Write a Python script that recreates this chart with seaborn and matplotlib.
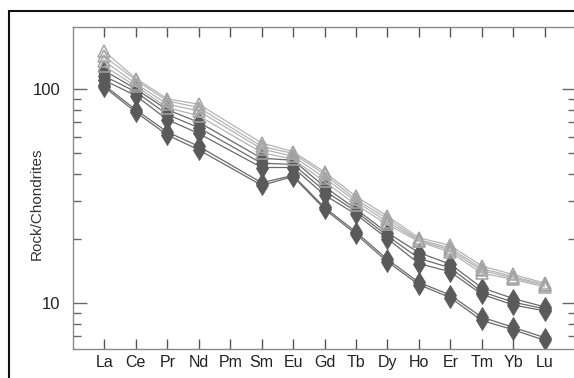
import numpy as np
import pandas as pd
import matplotlib
matplotlib.use("Agg")
import matplotlib.pyplot as plt
from matplotlib.ticker import LogLocator, FixedLocator, NullFormatter, FixedFormatter
from matplotlib.patches import Rectangle
import seaborn as sns

elements = ["La", "Ce", "Pr", "Nd", "Pm", "Sm", "Eu", "Gd", "Tb", "Dy", "Ho", "Er", "Tm", "Yb", "Lu"]
# Pm has no data (None)
T1 = [150, 112, 90, 85, None, 56, 51, 41, 31.5, 25.5, 20.2, 18.6, 14.9, 13.6, 12.4]
T2 = [142, 110, 88, 82, None, 54, 50, 40, 30.5, 24.8, 19.8, 18.1, 14.5, 13.3, 12.2]
T3 = [135, 106, 85, 79, None, 52.5, 48.5, 38.5, 29.8, 24.0, 19.6, 17.7, 14.2, 13.1, 12.1]
T4 = [128, 103, 82, 75, None, 50.5, 47, 37, 28.8, 23.3, 19.4, 17.3, 13.8, 12.9, 11.9]
D1 = [122, 100, 80, 70, None, 47.5, 46.5, 35, 27.5, 21.3, 17.2, 15.2, 11.8, 10.5, 9.6]
D2 = [115, 97, 76, 66, None, 45, 44.5, 33.5, 26.8, 20.6, 16.2, 14.6, 11.3, 10.1, 9.4]
D3 = [110, 93, 72, 62, None, 43, 43, 32, 26, 20.0, 15.3, 14.0, 11.0, 9.8, 9.2]
D4 = [104, 80, 63, 54, None, 36.5, 39.5, 28, 21.5, 16.0, 12.5, 10.9, 8.6, 7.7, 6.9]
D5 = [102, 78, 61, 52, None, 35.5, 39, 27.5, 21.0, 15.6, 12.2, 10.6, 8.3, 7.5, 6.7]

triangle_series = {"T1": T1, "T2": T2, "T3": T3, "T4": T4}
diamond_series = {"D1": D1, "D2": D2, "D3": D3, "D4": D4, "D5": D5}

y_major = [10, 100]
y_major_labels = ["10", "100"]

sns.set_style("white")
plt.rcParams["font.family"] = ["Liberation Sans", "DejaVu Sans"]

fig = plt.figure(figsize=(5.74, 3.78), dpi=100)
ax = fig.add_axes([73 / 574, 29 / 378, 503 / 574, 322 / 378])

pos = np.arange(len(elements))

def long_df(series):
    rows = []
    for name, vals in series.items():
        for p, v in zip(pos, vals):
            if v is not None:
                rows.append({"series": name, "pos": p, "val": v})
    return pd.DataFrame(rows)

dft = long_df(triangle_series)
dfd = long_df(diamond_series)

for name in diamond_series:
    sub = dfd[dfd["series"] == name]
    sns.lineplot(data=sub, x="pos", y="val", ax=ax, color="#6a6a6a", lw=0.9,
                 marker="d", markersize=10, markerfacecolor="#5a5a5a",
                 markeredgecolor="#5a5a5a", markeredgewidth=0.6, legend=False,
                 estimator=None, sort=False)
for name in triangle_series:
    sub = dft[dft["series"] == name]
    sns.lineplot(data=sub, x="pos", y="val", ax=ax, color="#b4b4b4", lw=0.9,
                 marker="^", markersize=8.5, markerfacecolor="none",
                 markeredgecolor="#a4a4a4", markeredgewidth=1.1, legend=False,
                 estimator=None, sort=False)

ax.set_yscale("log")
ax.set_ylim(6.1, 195)
ax.set_xlim(-1, 15)

ax.set_xticks(pos)
ax.set_xticklabels(elements, fontsize=11.5, color="#222222")
ax.yaxis.set_major_locator(FixedLocator(y_major))
ax.yaxis.set_major_formatter(FixedFormatter(y_major_labels))
ax.yaxis.set_minor_locator(LogLocator(base=10, subs=np.arange(2, 10)))
ax.yaxis.set_minor_formatter(NullFormatter())
for lab in ax.get_yticklabels():
    lab.set_fontsize(12)
    lab.set_color("#222222")

ax.tick_params(axis="x", which="major", direction="in", length=7, width=1,
               color="#555555", top=True, bottom=True, pad=4)
ax.tick_params(axis="y", which="major", direction="in", length=10, width=1,
               color="#666666", left=True, right=True, pad=9)
ax.tick_params(axis="y", which="minor", direction="in", length=6, width=1,
               color="#666666", left=True, right=True)

ax.set_xlabel("")
ax.set_ylabel("Rock/Chondrites", fontsize=11, color="#333333")
ax.yaxis.set_label_coords(-0.058, 0.45)

for s in ax.spines.values():
    s.set_color("#8a8a8a")
    s.set_linewidth(1.0)
    s.set_visible(True)

border = Rectangle((9 / 574, -0.1), 1.2, (378 - 11) / 378 + 0.1,
                   transform=fig.transFigure, fill=False, edgecolor="#111111",
                   linewidth=1.5, zorder=10)
fig.patches.append(border)

fig.savefig("out.png", dpi=100)
